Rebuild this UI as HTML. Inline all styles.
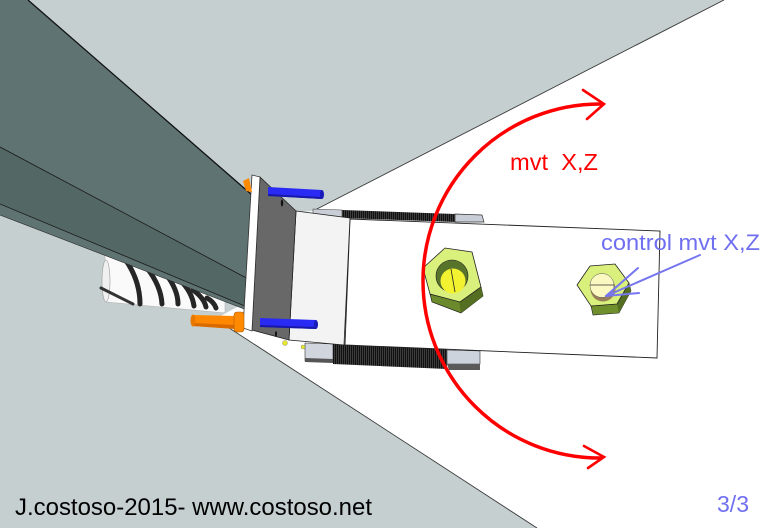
<!DOCTYPE html>
<html><head><meta charset="utf-8"><style>html,body{margin:0;padding:0;background:#c5cfcf}svg{display:block}</style></head>
<body>
<svg width="774" height="528" viewBox="0 0 774 528" xmlns="http://www.w3.org/2000/svg">
<defs>
<pattern id="thr" width="2" height="10" patternUnits="userSpaceOnUse"><rect width="2" height="10" fill="#111"/><rect width="1" height="10" fill="#3c3c3c"/></pattern>
</defs>
<rect width="774" height="528" fill="#c5cfcf"/>
<!-- white wedge -->
<polygon points="724,0 774,0 774,528 537,528 215,319 250,300 300,212 313,211" fill="#fff"/>
<line x1="724" y1="0" x2="313" y2="211" stroke="#3a3a3a" stroke-width="0.9"/>
<line x1="537" y1="528" x2="220" y2="322" stroke="#3a3a3a" stroke-width="0.9"/>

<!-- spring -->
<polygon points="105,255 225,285 225,313 106,302" fill="#fafafa" stroke="#aaa" stroke-width="0.5"/>
<ellipse cx="106" cy="281" rx="4" ry="21" fill="#f0f0f0" stroke="#999" stroke-width="0.6"/>
<g fill="none" stroke="#262626" stroke-width="5" stroke-linecap="round">
<path d="M127,262 Q140,282 140,304"/>
<path d="M147,268 Q161,286 162,304"/>
<path d="M166,274 Q178,290 178,304"/>
<path d="M180,280 Q192,292 194,306"/>
<path d="M193,290 Q204,298 206,307"/>
<path d="M207,298 Q214,302 216,308"/>
</g>
<line x1="101" y1="288" x2="133" y2="304" stroke="#333" stroke-width="3" stroke-linecap="round"/>

<!-- beam -->
<polygon points="0,0 28,0 252,195 252,312 0,215" fill="#5e7372"/>
<polygon points="0,147 252,281 252,309 0,204" fill="#536765"/>
<line x1="28" y1="0" x2="252" y2="195" stroke="#111" stroke-width="1.3"/>
<line x1="0" y1="147" x2="252" y2="281" stroke="#1a1a1a" stroke-width="0.8"/>
<line x1="0" y1="204" x2="252" y2="309" stroke="#1a1a1a" stroke-width="0.8"/>
<line x1="0" y1="215" x2="252" y2="312" stroke="#2a2a2a" stroke-width="0.6"/>

<!-- threaded rods + blocks -->
<polygon points="313,209 342,210 342,218 313,217" fill="#c9cdd5" stroke="#444" stroke-width="0.6"/>
<polygon points="342,210 455,214 455,222 342,218" fill="url(#thr)"/>
<polygon points="455,214 482,215 484,222 455,222" fill="#c9ced6" stroke="#333" stroke-width="0.7"/>
<polygon points="305,343 333,344 333,362 305,361" fill="#d0d5de" stroke="#333" stroke-width="0.6"/>
<polygon points="305,358 333,359 333,363 305,362" fill="#555"/>
<polygon points="333,344 447,349 447,369 333,364" fill="url(#thr)"/>
<polygon points="447,350 480,351 480,364 447,364" fill="#cdd3dc" stroke="#333" stroke-width="0.6"/>
<polygon points="447,364 480,364 480,370 449,370" fill="#5a5a5a"/>

<!-- main arm -->
<polygon points="350,219 660,231 657,358 345,345" fill="#fff" stroke="#222" stroke-width="0.9"/>

<!-- box -->
<polygon points="296,211 350,218 344,345 289,340" fill="#f3f3f3" stroke="#222" stroke-width="0.8"/>
<!-- dark plate -->
<polygon points="260,177 296,211 289,340 252,330" fill="#686868" stroke="#222" stroke-width="0.8"/>
<ellipse cx="282" cy="203" rx="1.2" ry="3.5" fill="#111"/>
<ellipse cx="276" cy="334" rx="1" ry="3" fill="#111"/>
<!-- white plate -->
<polygon points="252,175 260,177 252,331 243,328" fill="#fff" stroke="#333" stroke-width="0.8"/>
<circle cx="285" cy="343" r="2.5" fill="#e8e82a" stroke="#777" stroke-width="0.4"/>
<circle cx="303" cy="347" r="2" fill="#e8e82a" stroke="#777" stroke-width="0.4"/>

<!-- orange parts -->
<polygon points="243,181 249,178 252,192 246,191" fill="#ff8a00"/>
<polygon points="193,315 236,316 236,329 193,326" fill="#ff8800"/>
<polygon points="193,323 236,325 236,329 193,326" fill="#d96a00"/>
<ellipse cx="193" cy="320.5" rx="2.5" ry="6" fill="#e87800"/>
<rect x="234" y="312" width="10" height="20" rx="3" fill="#ff8a00" stroke="#b05a00" stroke-width="0.6"/>

<!-- blue rods -->
<polygon points="268,187 322,190 322,199 268,196" fill="#2a2af5"/>
<polygon points="268,194 322,197 322,199 268,196" fill="#1818a8"/>
<ellipse cx="322" cy="194.5" rx="2" ry="4.5" fill="#1a1ab8"/>
<polygon points="260,318 316,320 316,329 260,327" fill="#2a2af5"/>
<polygon points="260,325 316,327 316,329 260,327" fill="#1818a8"/>
<ellipse cx="316" cy="324.5" rx="2" ry="4.5" fill="#1a1ab8"/>

<!-- left nut -->
<polygon points="430,294 459,301 481,287 483,296 461,313 432,302" fill="#6b8a2c" stroke="#222" stroke-width="0.7"/>
<polygon points="459,301 481,287 483,296 461,313" fill="#556f22"/>
<polygon points="423,268 445,248 472,252 481,287 460,302 430,294" fill="#d9f07c" stroke="#222" stroke-width="0.8"/>
<circle cx="452" cy="276" r="16" fill="#58742a" stroke="#222" stroke-width="0.6"/>
<circle cx="453" cy="281" r="12.5" fill="#f2f230"/>
<line x1="451" y1="269" x2="455" y2="292" stroke="#222" stroke-width="0.8"/>

<!-- right nut -->
<polygon points="591,306 617,304 629,283 631,291 619,313 593,315" fill="#6f8f2c" stroke="#222" stroke-width="0.6"/>
<polygon points="617,304 629,283 631,291 619,313" fill="#556f22"/>
<polygon points="577,285 590,266 615,264 629,283 617,304 591,306" fill="#d9f07c" stroke="#222" stroke-width="0.8"/>
<circle cx="603" cy="289" r="12.5" fill="#9a8058"/>
<circle cx="602" cy="285.5" r="12" fill="#fbf8c2" stroke="#555" stroke-width="0.5"/>
<line x1="590" y1="285" x2="614" y2="285" stroke="#333" stroke-width="0.8"/>

<!-- blue pointer lines -->
<g stroke="#7676f0" stroke-width="2" fill="none" stroke-linecap="round">
<line x1="606" y1="296" x2="700" y2="255"/>
<line x1="606" y1="296" x2="638" y2="268"/>
<line x1="606" y1="296" x2="639" y2="293"/>
</g>

<!-- red arc -->
<g stroke="#ff0000" fill="none" stroke-linecap="round">
<path d="M600,104 A177,177 0 0 0 600,458" stroke-width="3.5"/>
<polyline points="583,90 604,104 587,119" stroke-width="2.6" stroke-linejoin="miter"/>
<polyline points="584,446 604,457 588,468" stroke-width="2.6"/>
</g>

<!-- texts -->
<g font-family="Liberation Sans, Arial, sans-serif">
<text x="510" y="170" font-size="23" fill="#ff0000" textLength="88" lengthAdjust="spacingAndGlyphs" xml:space="preserve">mvt  X,Z</text>
<text x="601" y="250" font-size="22" fill="#6f6ff0" textLength="159" lengthAdjust="spacingAndGlyphs">control mvt X,Z</text>
<text x="15" y="515" font-size="24" fill="#000" textLength="357" lengthAdjust="spacingAndGlyphs">J.costoso-2015- www.costoso.net</text>
<text x="717" y="512" font-size="23" fill="#6f6ff0" textLength="32" lengthAdjust="spacingAndGlyphs">3/3</text>
</g>
</svg>
</body></html>
